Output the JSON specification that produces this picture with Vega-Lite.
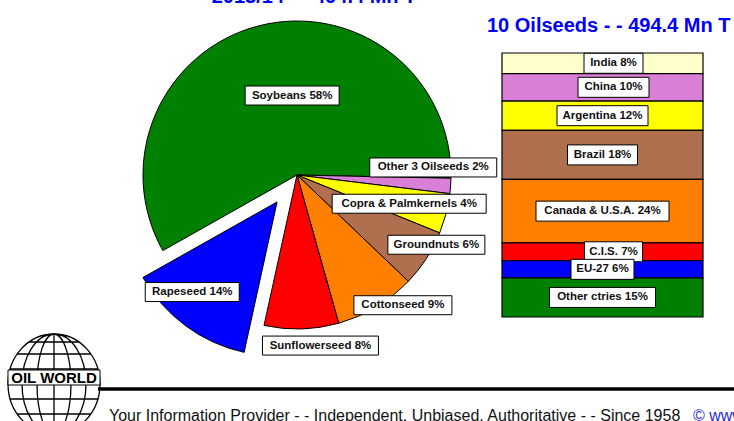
{
  "$schema": "https://vega.github.io/schema/vega-lite/v6.json",
  "width": 734,
  "height": 421,
  "autosize": "none",
  "padding": 0,
  "background": "white",
  "config": {"view": {"stroke": null}},
  "datasets": {
    "crops": [
      {"crop": "Soybeans", "share": 58.5, "label": "Soybeans 58%"},
      {"crop": "Other 3 Oilseeds", "share": 1.6, "label": "Other 3 Oilseeds 2%"},
      {"crop": "Copra & Palmkernels", "share": 4.2, "label": "Copra & Palmkernels 4%"},
      {"crop": "Groundnuts", "share": 6.0, "label": "Groundnuts 6%"},
      {"crop": "Cottonseed", "share": 8.5, "label": "Cottonseed 9%"},
      {"crop": "Sunflowerseed", "share": 7.8, "label": "Sunflowerseed 8%"},
      {"crop": "Rapeseed", "share": 13.4, "label": "Rapeseed 14%"}
    ],
    "regions": [
      {"region": "India", "share": 7.8, "label": "India 8%"},
      {"region": "China", "share": 10.4, "label": "China 10%"},
      {"region": "Argentina", "share": 11.1, "label": "Argentina 12%"},
      {"region": "Brazil", "share": 18.6, "label": "Brazil 18%"},
      {"region": "Canada & U.S.A.", "share": 24.0, "label": "Canada & U.S.A. 24%"},
      {"region": "C.I.S.", "share": 6.8, "label": "C.I.S. 7%"},
      {"region": "EU-27", "share": 6.5, "label": "EU-27 6%"},
      {"region": "Other ctries", "share": 14.8, "label": "Other ctries 15%"}
    ]
  },
  "resolve": {"scale": {"x": "independent", "y": "independent", "color": "independent", "shape": "independent"}},
  "layer": [
    {
      "data": {"name": "crops"},
      "transform": [
        {"window": [{"op": "row_number", "as": "idx"}]},
        {"stack": "share", "groupby": [], "sort": [{"field": "idx", "order": "ascending"}], "as": ["t0", "t1"]},
        {"calculate": "4.1993 + PI * (datum.t0 + datum.t1) / 100", "as": "mid"},
        {"calculate": "datum.crop === 'Rapeseed' ? 0.2175 * sin(datum.mid) : 0", "as": "cx"},
        {"calculate": "datum.crop === 'Rapeseed' ? 0.2175 * cos(datum.mid) : 0", "as": "cy"},
        {"calculate": "datum.mid + PI / 180 * [10.6, -7.25, -0.15, -6.3, -8.1, -6.15, 5.35][datum.idx - 1]", "as": "la"},
        {"calculate": "[0.517, 0.886, 0.752, 1.012, 1.09, 1.118, 1.02][datum.idx - 1]", "as": "lr"},
        {"calculate": "datum.lr * sin(datum.la)", "as": "lx"},
        {"calculate": "datum.lr * cos(datum.la)", "as": "ly"}
      ],
      "layer": [
        {
          "mark": {"type": "arc", "outerRadius": 154, "stroke": "black", "strokeWidth": 1},
          "encoding": {
            "x": {"field": "cx", "type": "quantitative", "scale": {"domain": [-1, 1], "range": [143, 451], "zero": false, "nice": false}, "axis": null},
            "y": {"field": "cy", "type": "quantitative", "scale": {"domain": [-1, 1], "range": [329, 21], "zero": false, "nice": false}, "axis": null},
            "theta": {"field": "t0", "type": "quantitative", "scale": {"domain": [0, 100], "range": [4.1993, 10.4825]}},
            "theta2": {"field": "t1"},
            "color": {
              "field": "crop", "type": "nominal", "legend": null,
              "scale": {
                "domain": ["Soybeans", "Other 3 Oilseeds", "Copra & Palmkernels", "Groundnuts", "Cottonseed", "Sunflowerseed", "Rapeseed"],
                "range": ["#008000", "#D980D6", "#FFFF00", "#B07050", "#FF8000", "#FF0000", "#0000FF"]
              }
            }
          }
        },
        {
          "mark": {"type": "point", "size": 4, "filled": true, "fill": "white", "stroke": "black", "strokeWidth": 1, "opacity": 1},
          "encoding": {
            "x": {"field": "lx", "type": "quantitative", "axis": null},
            "y": {"field": "ly", "type": "quantitative", "axis": null},
            "shape": {
              "field": "label", "type": "nominal", "legend": null,
              "scale": {
                "domain": ["Soybeans 58%", "Other 3 Oilseeds 2%", "Copra & Palmkernels 4%", "Groundnuts 6%", "Cottonseed 9%", "Sunflowerseed 8%", "Rapeseed 14%"],
                "range": ["M-47,-9.5H47V9.5H-47Z", "M-63.5,-9.5H63.5V9.5H-63.5Z", "M-77,-9.5H77V9.5H-77Z", "M-48.5,-9.5H48.5V9.5H-48.5Z", "M-49,-9.5H49V9.5H-49Z", "M-58,-9.5H58V9.5H-58Z", "M-47,-9.5H47V9.5H-47Z"]
              }
            }
          }
        },
        {
          "mark": {"type": "text", "font": "'Liberation Sans', Arial, sans-serif", "fontWeight": "bold", "fontSize": 11.5, "align": "center", "baseline": "middle", "color": "#111111"},
          "encoding": {
            "x": {"field": "lx", "type": "quantitative", "axis": null},
            "y": {"field": "ly", "type": "quantitative", "axis": null},
            "text": {"field": "label"}
          }
        }
      ]
    },
    {
      "data": {"name": "regions"},
      "transform": [
        {"window": [{"op": "row_number", "as": "idx"}]},
        {"stack": "share", "groupby": [], "sort": [{"field": "idx", "order": "descending"}], "as": ["b0", "b1"]},
        {"calculate": "(datum.b0 + datum.b1) / 2", "as": "bm"},
        {"calculate": "'2013/14'", "as": "grp"}
      ],
      "layer": [
        {
          "mark": {"type": "bar", "stroke": "black", "strokeWidth": 1.2},
          "encoding": {
            "x": {"field": "grp", "type": "nominal", "scale": {"type": "band", "range": [502, 703], "paddingInner": 0, "paddingOuter": 0}, "axis": null},
            "y": {"field": "b0", "type": "quantitative", "scale": {"domain": [0, 100], "range": [317, 53], "zero": false, "nice": false}, "axis": null},
            "y2": {"field": "b1"},
            "color": {
              "field": "region", "type": "nominal", "legend": null,
              "scale": {
                "domain": ["India", "China", "Argentina", "Brazil", "Canada & U.S.A.", "C.I.S.", "EU-27", "Other ctries"],
                "range": ["#FFFFCC", "#D980D6", "#FFFF00", "#B07050", "#FF8000", "#FF0000", "#0000FF", "#008000"]
              }
            }
          }
        },
        {
          "mark": {"type": "point", "size": 4, "filled": true, "fill": "white", "stroke": "black", "strokeWidth": 1, "opacity": 1,
                   "xOffset": {"expr": "indexof(['India', 'China', 'C.I.S.'], datum.region) >= 0 ? 11 : 0"}},
          "encoding": {
            "x": {"field": "grp", "type": "nominal", "axis": null},
            "y": {"field": "bm", "type": "quantitative", "axis": null},
            "shape": {
              "field": "label", "type": "nominal", "legend": null,
              "scale": {
                "domain": ["India 8%", "China 10%", "Argentina 12%", "Brazil 18%", "Canada & U.S.A. 24%", "C.I.S. 7%", "EU-27 6%", "Other ctries 15%"],
                "range": ["M-29.5,-10H29.5V10H-29.5Z", "M-35.5,-10H35.5V10H-35.5Z", "M-45.5,-10H45.5V10H-45.5Z", "M-35,-10H35V10H-35Z", "M-66.5,-10H66.5V10H-66.5Z", "M-29,-10H29V10H-29Z", "M-31.5,-10H31.5V10H-31.5Z", "M-53,-10H53V10H-53Z"]
              }
            }
          }
        },
        {
          "mark": {"type": "text", "font": "'Liberation Sans', Arial, sans-serif", "fontWeight": "bold", "fontSize": 11.5, "align": "center", "baseline": "middle", "color": "#111111",
                   "xOffset": {"expr": "indexof(['India', 'China', 'C.I.S.'], datum.region) >= 0 ? 11 : 0"}},
          "encoding": {
            "x": {"field": "grp", "type": "nominal", "axis": null},
            "y": {"field": "bm", "type": "quantitative", "axis": null},
            "text": {"field": "label"}
          }
        }
      ]
    },
    {
      "data": {"values": [{}]},
      "layer": [
        {
          "mark": {"type": "text", "font": "'Liberation Sans', Arial, sans-serif", "fontWeight": "bold", "fontSize": 20, "align": "center", "baseline": "alphabetic", "color": "#0000FF"},
          "encoding": {
            "x": {"datum": 314, "type": "quantitative", "scale": {"domain": [0, 734], "range": [0, 734], "nice": false, "zero": false}, "axis": null},
            "y": {"datum": 3, "type": "quantitative", "scale": {"domain": [0, 421], "range": [0, 421], "nice": false, "zero": false}, "axis": null},
            "text": {"value": "2013/14 - - 494.4 Mn T"}
          }
        },
        {
          "mark": {"type": "text", "font": "'Liberation Sans', Arial, sans-serif", "fontWeight": "bold", "fontSize": 20, "align": "left", "baseline": "alphabetic", "color": "#0000FF"},
          "encoding": {
            "x": {"datum": 487, "type": "quantitative"},
            "y": {"datum": 31.5, "type": "quantitative"},
            "text": {"value": "10 Oilseeds - - 494.4 Mn T"}
          }
        },
        {
          "mark": {"type": "rule", "strokeWidth": 3.5, "color": "black"},
          "encoding": {
            "x": {"datum": 98, "type": "quantitative"},
            "x2": {"datum": 734},
            "y": {"datum": 389, "type": "quantitative"}
          }
        },
        {
          "mark": {"type": "text", "font": "'Liberation Sans', Arial, sans-serif", "fontSize": 16, "align": "left", "baseline": "alphabetic", "color": "#111111"},
          "encoding": {
            "x": {"datum": 109, "type": "quantitative"},
            "y": {"datum": 421, "type": "quantitative"},
            "text": {"value": "Your Information Provider - - Independent, Unbiased, Authoritative - - Since 1958"}
          }
        },
        {
          "mark": {"type": "text", "font": "'Liberation Sans', Arial, sans-serif", "fontSize": 16, "align": "left", "baseline": "alphabetic", "color": "#2a2ae0"},
          "encoding": {
            "x": {"datum": 693, "type": "quantitative"},
            "y": {"datum": 421, "type": "quantitative"},
            "text": {"value": "© www.oilworld.biz"}
          }
        },
        {
          "mark": {"type": "point", "size": 4, "filled": false, "color": "black", "strokeWidth": 1.3, "opacity": 1,
                   "shape": "M-46,0A46,50,0,1,0,46,0A46,50,0,1,0,-46,0ZM0,-50A32,50,0,0,0,0,50A32,50,0,0,0,0,-50ZM0,-50A17,50,0,0,0,0,50A17,50,0,0,0,0,-50ZM0,-50V50M-43.9,-15H43.9M-43.9,15H43.9M-36.8,-30H36.8M-36.8,30H36.8M-25,-42H25M-25,42H25"},
          "encoding": {
            "x": {"datum": 54, "type": "quantitative"},
            "y": {"datum": 384, "type": "quantitative"}
          }
        },
        {
          "mark": {"type": "point", "size": 4, "filled": true, "fill": "white", "stroke": "black", "strokeWidth": 1, "opacity": 1,
                   "shape": "M-46,-7.5H46V7.5H-46Z"},
          "encoding": {
            "x": {"datum": 54, "type": "quantitative"},
            "y": {"datum": 377.5, "type": "quantitative"}
          }
        },
        {
          "mark": {"type": "text", "font": "'Liberation Sans', Arial, sans-serif", "fontWeight": "bold", "fontSize": 15, "align": "center", "baseline": "middle", "color": "black"},
          "encoding": {
            "x": {"datum": 54, "type": "quantitative"},
            "y": {"datum": 378, "type": "quantitative"},
            "text": {"value": "OIL WORLD"}
          }
        }
      ]
    }
  ]
}
